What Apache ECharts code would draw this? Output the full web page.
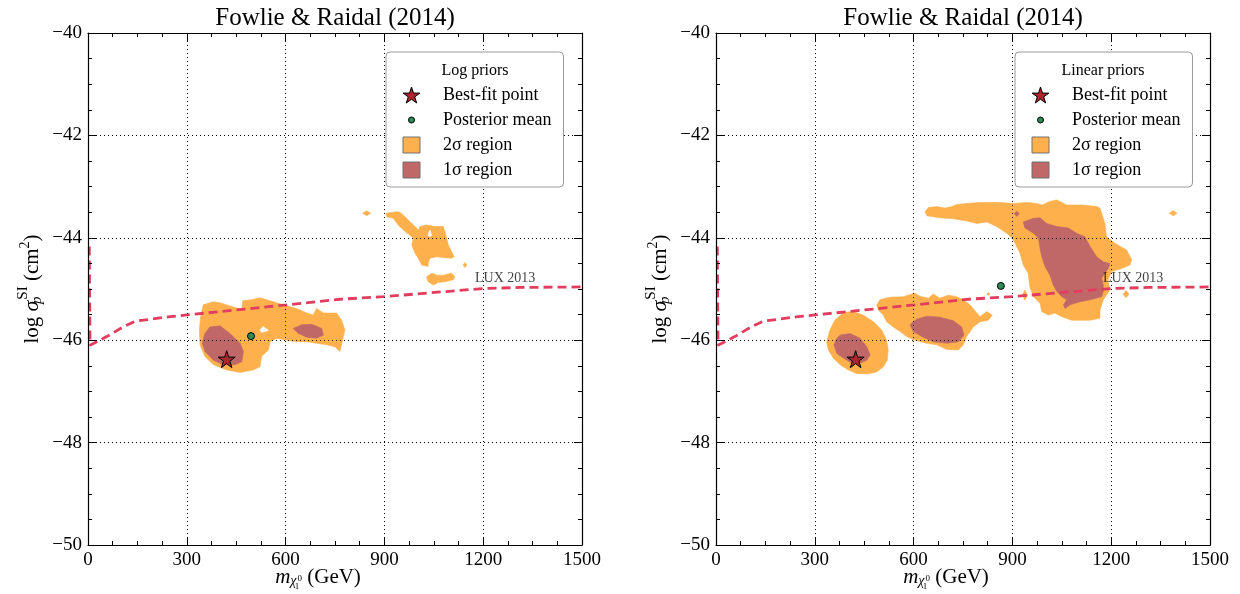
<!DOCTYPE html>
<html><head><meta charset="utf-8">
<script src="https://cdn.jsdelivr.net/npm/echarts@6/dist/echarts.min.js"></script>
<style>html,body{margin:0;padding:0;background:#fff}#chart{width:1240px;height:594px}</style>
</head><body><div id="chart"></div>
<script>
// ---------- tick values and labels ----------
const xTicks = [0, 300, 600, 900, 1200, 1500];
const xTickLabels = ['0', '300', '600', '900', '1200', '1500'];
const yTicks = [-50, -48, -46, -44, -42, -40];
const yTickLabels = ['\u221250', '\u221248', '\u221246', '\u221244', '\u221242', '\u221240'];
const panelTitles = ['Fowlie & Raidal (2014)', 'Fowlie & Raidal (2014)'];
const legendTitles = ['Log priors', 'Linear priors'];
const legendNames = ['Best-fit point', 'Posterior mean', '2\u03c3 region', '1\u03c3 region'];

// ---------- LUX 2013 limit ----------
const luxMass  = [3.9, 6.1, 57, 107, 143, 249, 603, 765, 897, 1200, 1312, 1500];
const luxSigma = [-44.17, -46.10, -45.93, -45.74, -45.63, -45.54, -45.31, -45.20, -45.15, -44.99, -44.97, -44.96];
const luxLabelPoint = [1175, -44.80];
const luxLabelText = 'LUX 2013';

// ---------- points ----------
const logBestFit = [421, -46.37];
const logPosteriorMean = [495, -45.92];
const linBestFit = [424, -46.37];
const linPosteriorMean = [865, -44.94];

// ---------- log priors: contour regions (mass GeV, log sigma) ----------
const logTwoSigmaMain = [[350,-45.31],[380,-45.25],[401,-45.27],[431,-45.33],[467,-45.40],[470,-45.23],[497,-45.21],[522,-45.17],[553,-45.23],[592,-45.31],[634,-45.38],[664,-45.47],[684,-45.51],[694,-45.38],[715,-45.47],[755,-45.47],[770,-45.61],[780,-45.80],[773,-46.00],[765,-46.22],[750,-46.13],[725,-46.09],[694,-46.06],[664,-46.03],[634,-46.03],[603,-46.00],[573,-45.96],[553,-46.03],[548,-46.19],[527,-46.32],[522,-46.52],[502,-46.58],[462,-46.63],[421,-46.58],[381,-46.48],[355,-46.32],[340,-46.09],[338,-45.80],[342,-45.54]];
const logTwoSigmaUpper = [[905,-43.52],[937,-43.49],[947,-43.50],[963,-43.59],[978,-43.69],[993,-43.78],[1003,-43.85],[1008,-43.78],[1028,-43.75],[1054,-43.78],[1079,-43.78],[1084,-43.88],[1089,-44.01],[1094,-44.14],[1104,-44.27],[1112,-44.37],[1104,-44.40],[1084,-44.39],[1059,-44.37],[1038,-44.40],[1033,-44.50],[1033,-44.56],[1013,-44.53],[1003,-44.40],[993,-44.30],[983,-44.14],[988,-44.01],[978,-43.95],[963,-43.88],[942,-43.75],[927,-43.62],[907,-43.59]];
const logTwoSigmaLower = [[1028,-44.76],[1044,-44.69],[1059,-44.73],[1079,-44.73],[1104,-44.69],[1114,-44.76],[1109,-44.82],[1084,-44.86],[1064,-44.87],[1049,-44.92],[1033,-44.86]];
const logTwoSigmaSpotA = [[834,-43.52],[846,-43.47],[858,-43.52],[846,-43.57]];
const logTwoSigmaSpotB = [[1139,-44.53],[1145,-44.48],[1150,-44.53],[1145,-44.58]];
const logHoleA = [[522,-45.80],[532,-45.73],[548,-45.81],[527,-45.85]];
const logHoleB = [[1038,-43.85],[1044,-43.95],[1038,-43.98],[1032,-43.95]];
const logOneSigmaMain = [[370,-45.74],[401,-45.72],[431,-45.87],[462,-46.06],[472,-46.22],[467,-46.42],[446,-46.48],[411,-46.48],[381,-46.39],[355,-46.22],[347,-46.06],[355,-45.87]];
const logOneSigmaSide = [[623,-45.77],[649,-45.70],[679,-45.69],[710,-45.77],[715,-45.90],[694,-45.96],[664,-45.94],[639,-45.87]];

// ---------- linear priors: contour regions ----------
const linTwoSigmaLow = [[387,-45.46],[417,-45.44],[447,-45.51],[478,-45.64],[503,-45.80],[518,-46.00],[523,-46.19],[520,-46.39],[508,-46.52],[488,-46.62],[458,-46.66],[427,-46.65],[402,-46.58],[377,-46.48],[356,-46.35],[341,-46.19],[336,-46.03],[346,-45.80],[361,-45.61]];
const linTwoSigmaMid = [[488,-45.31],[498,-45.21],[528,-45.16],[569,-45.15],[604,-45.08],[619,-45.14],[645,-45.18],[660,-45.10],[680,-45.18],[705,-45.12],[731,-45.15],[751,-45.21],[771,-45.31],[792,-45.47],[802,-45.54],[822,-45.44],[839,-45.51],[827,-45.61],[802,-45.64],[781,-45.74],[761,-45.93],[751,-46.09],[736,-46.19],[701,-46.18],[670,-46.09],[640,-46.06],[604,-46.00],[579,-45.93],[559,-45.83],[538,-45.74],[518,-45.64],[508,-45.51],[493,-45.41]];
const linTwoSigmaHigh = [[635,-43.49],[645,-43.41],[670,-43.39],[695,-43.42],[716,-43.39],[731,-43.35],[761,-43.33],[802,-43.31],[862,-43.31],[903,-43.33],[943,-43.31],[974,-43.33],[990,-43.36],[1014,-43.29],[1035,-43.26],[1065,-43.36],[1115,-43.36],[1156,-43.39],[1166,-43.42],[1181,-43.72],[1186,-43.98],[1212,-44.11],[1247,-44.24],[1262,-44.43],[1257,-44.53],[1232,-44.60],[1202,-44.66],[1190,-44.82],[1196,-45.02],[1176,-45.21],[1166,-45.41],[1166,-45.57],[1136,-45.61],[1080,-45.61],[1050,-45.54],[1029,-45.47],[1009,-45.51],[989,-45.44],[984,-45.28],[964,-45.15],[953,-44.96],[948,-44.69],[933,-44.53],[923,-44.30],[903,-44.04],[883,-43.91],[852,-43.78],[822,-43.69],[792,-43.72],[761,-43.67],[721,-43.63],[680,-43.61],[640,-43.57]];
const linTwoSigmaSpotA = [[1376,-43.52],[1388,-43.47],[1400,-43.52],[1388,-43.57]];
const linTwoSigmaSpotB = [[1236,-45.10],[1245,-45.03],[1254,-45.10],[1245,-45.17]];
const linTwoSigmaSpotC = [[930,-45.12],[938,-45.02],[946,-45.12],[938,-45.22]];
const linTwoSigmaSpotD = [[823,-45.10],[827,-45.07],[831,-45.10],[827,-45.13]];
const linOneSigmaLow = [[377,-45.90],[407,-45.87],[437,-45.96],[458,-46.13],[468,-46.29],[458,-46.39],[437,-46.45],[412,-46.45],[387,-46.35],[367,-46.26],[358,-46.09],[367,-45.96]];
const linOneSigmaMid = [[589,-45.70],[609,-45.59],[640,-45.53],[680,-45.55],[721,-45.62],[746,-45.74],[753,-45.90],[736,-46.03],[701,-46.06],[660,-46.03],[625,-45.93],[599,-45.83]];
const linOneSigmaHigh = [[933,-43.69],[964,-43.62],[984,-43.61],[1004,-43.72],[1035,-43.78],[1070,-43.81],[1095,-43.91],[1120,-43.98],[1136,-44.17],[1156,-44.37],[1176,-44.47],[1196,-44.50],[1191,-44.60],[1181,-44.69],[1171,-44.79],[1176,-44.92],[1176,-45.05],[1171,-45.15],[1136,-45.21],[1105,-45.25],[1075,-45.31],[1060,-45.38],[1055,-45.31],[1065,-45.21],[1050,-45.15],[1035,-45.05],[1024,-44.92],[1014,-44.73],[999,-44.56],[989,-44.37],[984,-44.21],[979,-44.01],[964,-43.91],[938,-43.81]];
const linOneSigmaSpot = [[905,-43.53],[913,-43.48],[921,-43.53],[913,-43.58]];

// ---------- style ----------
const FONT = 'Liberation Serif';
const ORANGE = '#fdb04c';
const BROWN = '#c06868';
const STAR_RED = '#a8262c';
const DOT_GREEN = '#2e8b57';
const LUX_RED = '#e23c5e';
const starPath = 'path://M0,-10L2.25,-3.09L9.51,-3.09L3.63,1.18L5.88,8.09L0,3.82L-5.88,8.09L-3.63,1.18L-9.51,-3.09L-2.25,-3.09Z';
const smallDotPath = 'path://M-8,-8M8,8M0,-3A3,3,0,1,1,0,3A3,3,0,1,1,0,-3Z';

const gridBoxes = [{left: 88, top: 33, width: 494, height: 512}, {left: 716, top: 33, width: 494, height: 512}];

function mainX(g) {
  return {
    gridIndex: g, type: 'value', position: 'bottom', min: 0, max: 1500, interval: 300, z: 3,
    axisLine: {show: true, onZero: false, lineStyle: {color: '#000', width: 1.2}},
    axisTick: {show: true, inside: true, length: 8, lineStyle: {color: '#000', width: 1}},
    minorTick: {show: true, splitNumber: 4, length: 4, lineStyle: {color: '#000', width: 1}},
    axisLabel: {color: '#000', fontFamily: FONT, fontSize: 19, margin: 6,
      formatter: v => { const i = xTicks.indexOf(v); return i >= 0 ? xTickLabels[i] : ''; }},
    splitLine: {show: true, lineStyle: {color: '#000', width: 1, type: [1, 3]}},
    name: '{m|m}{chi|\u03c7}{one|1}{zero|0}{t| (GeV)}',
    nameLocation: 'middle', nameGap: 19, nameMoveOverlap: false,
    nameTextStyle: {color: '#000', padding: [0, 34, 0, 0], rich: {
      m: {fontFamily: FONT, fontSize: 21, fontStyle: 'italic', verticalAlign: 'middle'},
      chi: {fontFamily: FONT, fontSize: 14, fontStyle: 'italic', padding: [8, 0, 0, 0], verticalAlign: 'middle'},
      one: {fontFamily: FONT, fontSize: 9, padding: [18, 0, 0, 0], width: 1, verticalAlign: 'middle'},
      zero: {fontFamily: FONT, fontSize: 9, padding: [2, 0, 0, 0], verticalAlign: 'middle'},
      t: {fontFamily: FONT, fontSize: 21, verticalAlign: 'middle'}
    }}
  };
}
function mirrorX(g) {
  return {
    gridIndex: g, type: 'value', position: 'top', min: 0, max: 1500, interval: 300, z: 3,
    axisLine: {show: true, onZero: false, lineStyle: {color: '#000', width: 1.2}},
    axisTick: {show: true, inside: true, length: 8, lineStyle: {color: '#000', width: 1}},
    minorTick: {show: true, splitNumber: 4, length: 4, lineStyle: {color: '#000', width: 1}},
    axisLabel: {show: false}, splitLine: {show: false}
  };
}
function mainY(g) {
  return {
    gridIndex: g, type: 'value', position: 'left', min: -50, max: -40, interval: 2, z: 3,
    axisLine: {show: true, onZero: false, lineStyle: {color: '#000', width: 1.2}},
    axisTick: {show: true, inside: true, length: 8, lineStyle: {color: '#000', width: 1}},
    minorTick: {show: true, splitNumber: 4, length: 4, lineStyle: {color: '#000', width: 1}},
    axisLabel: {color: '#000', fontFamily: FONT, fontSize: 19, margin: 6,
      formatter: v => { const i = yTicks.indexOf(v); return i >= 0 ? yTickLabels[i] : ''; }},
    splitLine: {show: true, lineStyle: {color: '#000', width: 1, type: [1, 3]}},
    name: '{t|log }{sig|\u03c3}{p|p}{si|SI}{t| (cm}{two|2}{t|)}',
    nameLocation: 'middle', nameGap: 40, nameRotate: 90, nameMoveOverlap: false,
    nameTextStyle: {color: '#000', rich: {
      t: {fontFamily: FONT, fontSize: 21, verticalAlign: 'middle'},
      sig: {fontFamily: FONT, fontSize: 22, fontStyle: 'italic', verticalAlign: 'middle'},
      p: {fontFamily: FONT, fontSize: 15, fontStyle: 'italic', padding: [11, 0, 0, 0], width: 1, verticalAlign: 'middle'},
      si: {fontFamily: FONT, fontSize: 15, padding: [0, 0, 17, 0], verticalAlign: 'middle'},
      two: {fontFamily: FONT, fontSize: 14, padding: [0, 0, 14, 0], verticalAlign: 'middle'}
    }}
  };
}
function mirrorY(g) {
  return {
    gridIndex: g, type: 'value', position: 'right', min: -50, max: -40, interval: 2, z: 3,
    axisLine: {show: true, onZero: false, lineStyle: {color: '#000', width: 1.2}},
    axisTick: {show: true, inside: true, length: 8, lineStyle: {color: '#000', width: 1}},
    minorTick: {show: true, splitNumber: 4, length: 4, lineStyle: {color: '#000', width: 1}},
    axisLabel: {show: false}, splitLine: {show: false}
  };
}

function regionSeries(name, polys, color, axisIdx, z) {
  return {
    type: 'custom', name: name, xAxisIndex: axisIdx, yAxisIndex: axisIdx, z: z,
    silent: true, animation: false,
    itemStyle: {color: color},
    data: polys.map((p, i) => [p[0][0], p[0][1], i]),
    renderItem: (params, api) => {
      const poly = polys[api.value(2)];
      return {type: 'polygon', shape: {points: poly.map(pt => api.coord(pt))},
              style: {fill: color, stroke: color, lineWidth: 0.6}};
    }
  };
}
function luxSeries(axisIdx) {
  return {
    type: 'line', name: 'LUX 2013', xAxisIndex: axisIdx, yAxisIndex: axisIdx, z: 2,
    silent: true, animation: false, showSymbol: false, symbol: 'none', smooth: false,
    lineStyle: {color: LUX_RED, width: 2.8, type: [9, 5]},
    data: luxMass.map((m, i) => [m, luxSigma[i]])
  };
}
function luxLabelSeries(axisIdx) {
  return {
    type: 'scatter', name: 'lux-label', xAxisIndex: axisIdx, yAxisIndex: axisIdx, z: 2,
    silent: true, animation: false, symbolSize: 0,
    label: {show: true, position: 'right', distance: 0, formatter: luxLabelText,
            fontFamily: FONT, fontSize: 14, color: '#111'},
    data: [luxLabelPoint]
  };
}
function bestFitSeries(pt, axisIdx) {
  return {
    type: 'scatter', name: legendNames[0], xAxisIndex: axisIdx, yAxisIndex: axisIdx, z: 4,
    silent: true, animation: false, symbol: starPath, symbolSize: 17,
    itemStyle: {color: STAR_RED, borderColor: '#000', borderWidth: 1, opacity: 1},
    data: [pt]
  };
}
function meanSeries(pt, axisIdx) {
  return {
    type: 'scatter', name: legendNames[1], xAxisIndex: axisIdx, yAxisIndex: axisIdx, z: 4,
    silent: true, animation: false, symbol: 'circle', symbolSize: 7,
    itemStyle: {color: DOT_GREEN, borderColor: '#000', borderWidth: 1, opacity: 1},
    data: [pt]
  };
}

function legendFor(left) {
  return {
    left: left, top: 52, orient: 'vertical', z: 5, selectedMode: false,
    backgroundColor: '#fff', borderColor: '#9a9a9a', borderWidth: 1, borderRadius: 4,
    padding: [34, 12, 8, 16.5], itemWidth: 17, itemHeight: 16, itemGap: 7,
    textStyle: {fontFamily: FONT, fontSize: 18, color: '#000', lineHeight: 18, padding: [0, 0, 0, 18]},
    data: [
      {name: legendNames[0], icon: starPath, itemStyle: {color: STAR_RED, borderColor: '#000', borderWidth: 1, opacity: 1}},
      {name: legendNames[1], icon: smallDotPath, itemStyle: {color: DOT_GREEN, borderColor: '#000', borderWidth: 1, opacity: 1}},
      {name: legendNames[2], icon: 'rect', itemStyle: {color: ORANGE, borderColor: '#707070', borderWidth: 1}},
      {name: legendNames[3], icon: 'rect', itemStyle: {color: BROWN, borderColor: '#707070', borderWidth: 1}}
    ]
  };
}

const option = {
  backgroundColor: '#fff',
  animation: false,
  title: [
    {text: panelTitles[0], left: 335, top: 6, textAlign: 'center', padding: 0, z: 6,
     textStyle: {fontFamily: FONT, fontSize: 25, fontWeight: 'normal', color: '#000'}},
    {text: panelTitles[1], left: 963, top: 6, textAlign: 'center', padding: 0, z: 6,
     textStyle: {fontFamily: FONT, fontSize: 25, fontWeight: 'normal', color: '#000'}},
    {text: legendTitles[0], left: 475, top: 63, textAlign: 'center', padding: 0, z: 8,
     textStyle: {fontFamily: FONT, fontSize: 16, fontWeight: 'normal', color: '#000'}},
    {text: legendTitles[1], left: 1103, top: 63, textAlign: 'center', padding: 0, z: 8,
     textStyle: {fontFamily: FONT, fontSize: 16, fontWeight: 'normal', color: '#000'}}
  ],
  legend: [legendFor(386), legendFor(1015)],
  grid: gridBoxes.map(b => Object.assign({containLabel: false, outerBoundsMode: 'none', show: false}, b)),
  xAxis: [mainX(0), mirrorX(0), mainX(1), mirrorX(1)],
  yAxis: [mainY(0), mirrorY(0), mainY(1), mirrorY(1)],
  series: [
    regionSeries(legendNames[2], [logTwoSigmaMain, logTwoSigmaUpper, logTwoSigmaLower, logTwoSigmaSpotA, logTwoSigmaSpotB], ORANGE, 0, 1),
    regionSeries('hole', [logHoleA, logHoleB], '#ffffff', 0, 1),
    regionSeries(legendNames[3], [logOneSigmaMain, logOneSigmaSide], BROWN, 0, 1),
    luxSeries(0), luxLabelSeries(0),
    bestFitSeries(logBestFit, 0), meanSeries(logPosteriorMean, 0),

    regionSeries(legendNames[2], [linTwoSigmaLow, linTwoSigmaMid, linTwoSigmaHigh, linTwoSigmaSpotA, linTwoSigmaSpotB, linTwoSigmaSpotC, linTwoSigmaSpotD], ORANGE, 2, 1),
    regionSeries(legendNames[3], [linOneSigmaLow, linOneSigmaMid, linOneSigmaHigh, linOneSigmaSpot], BROWN, 2, 1),
    luxSeries(2), luxLabelSeries(2),
    bestFitSeries(linBestFit, 2), meanSeries(linPosteriorMean, 2)
  ]
};

const chart = echarts.init(document.getElementById('chart'), null, {renderer: 'canvas'});
chart.setOption(option);
</script>
</body></html>
